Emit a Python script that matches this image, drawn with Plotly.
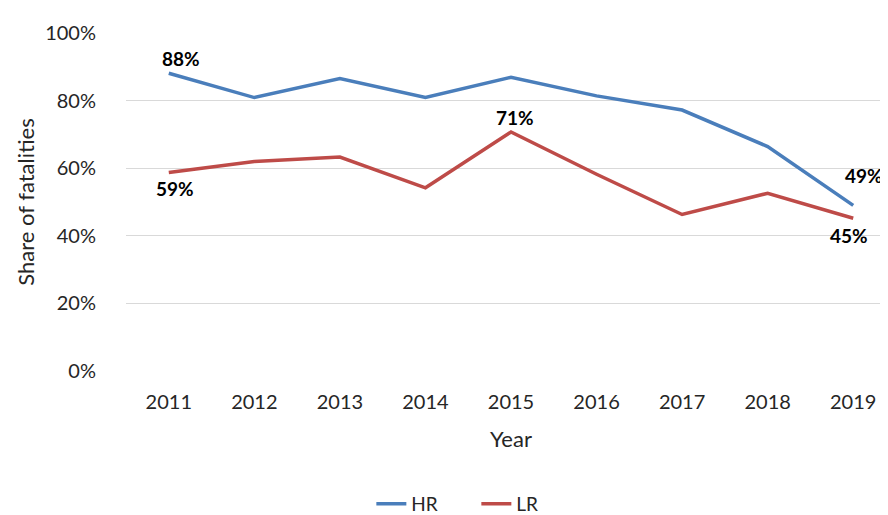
import plotly.graph_objects as go

years = ["2011", "2012", "2013", "2014", "2015", "2016", "2017", "2018", "2019"]
hr = [0.881, 0.809, 0.865, 0.809, 0.869, 0.814, 0.772, 0.664, 0.490]
lr = [0.587, 0.620, 0.633, 0.542, 0.707, 0.582, 0.463, 0.526, 0.452]
y_ticks = [0, 0.2, 0.4, 0.6, 0.8, 1.0]

# labelled points: (index, x shift px, y shift px)
hr_labels = [(0, 12, 15), (8, 11, 30)]
lr_labels = [(0, 6, -16), (4, 4, 15), (8, -4, -17)]

FONT = "Lato"
TXT = "#262626"

fig = go.Figure()
fig.add_trace(go.Scatter(x=years, y=hr, mode="lines", name="HR",
                         line=dict(color="#4A7EBB", width=3.5)))
fig.add_trace(go.Scatter(x=years, y=lr, mode="lines", name="LR",
                         line=dict(color="#BE4B48", width=3.5)))

for series, labels in ((hr, hr_labels), (lr, lr_labels)):
    for i, dx, dy in labels:
        fig.add_annotation(x=i, y=series[i], xref="x", yref="y",
                           text=f"<b>{round(series[i]*100)}%</b>",
                           showarrow=False, xshift=dx, yshift=dy,
                           font=dict(family=FONT, size=19, color="#000000"))

fig.update_layout(
    width=888, height=515,
    margin=dict(l=118, r=0, t=25, b=144),
    paper_bgcolor="white", plot_bgcolor="white",
    font=dict(family=FONT, size=20, color=TXT),
    showlegend=True,
    legend=dict(orientation="h", x=0.455, xanchor="center", y=-0.395, yanchor="middle",
                font=dict(family=FONT, size=19, color=TXT), entrywidth=60,
                traceorder="normal"),
    xaxis=dict(type="category", range=[-0.5, 8.5], showgrid=False, showline=False,
               ticks="", ticklabelstandoff=17, tickfont=dict(size=20, color=TXT),
               title=dict(text="Year", font=dict(size=22, color=TXT), standoff=19)),
    yaxis=dict(range=[0, 1.0], tickvals=y_ticks, tickformat=".0%", showgrid=True,
               gridcolor="#D9D9D9", gridwidth=1.3, zeroline=False, showline=False,
               ticks="", ticklabelstandoff=29, tickfont=dict(size=20, color=TXT),
               title=dict(text="Share of fatalities", font=dict(size=22, color=TXT), standoff=4)),
)

fig.write_html("out.html")
